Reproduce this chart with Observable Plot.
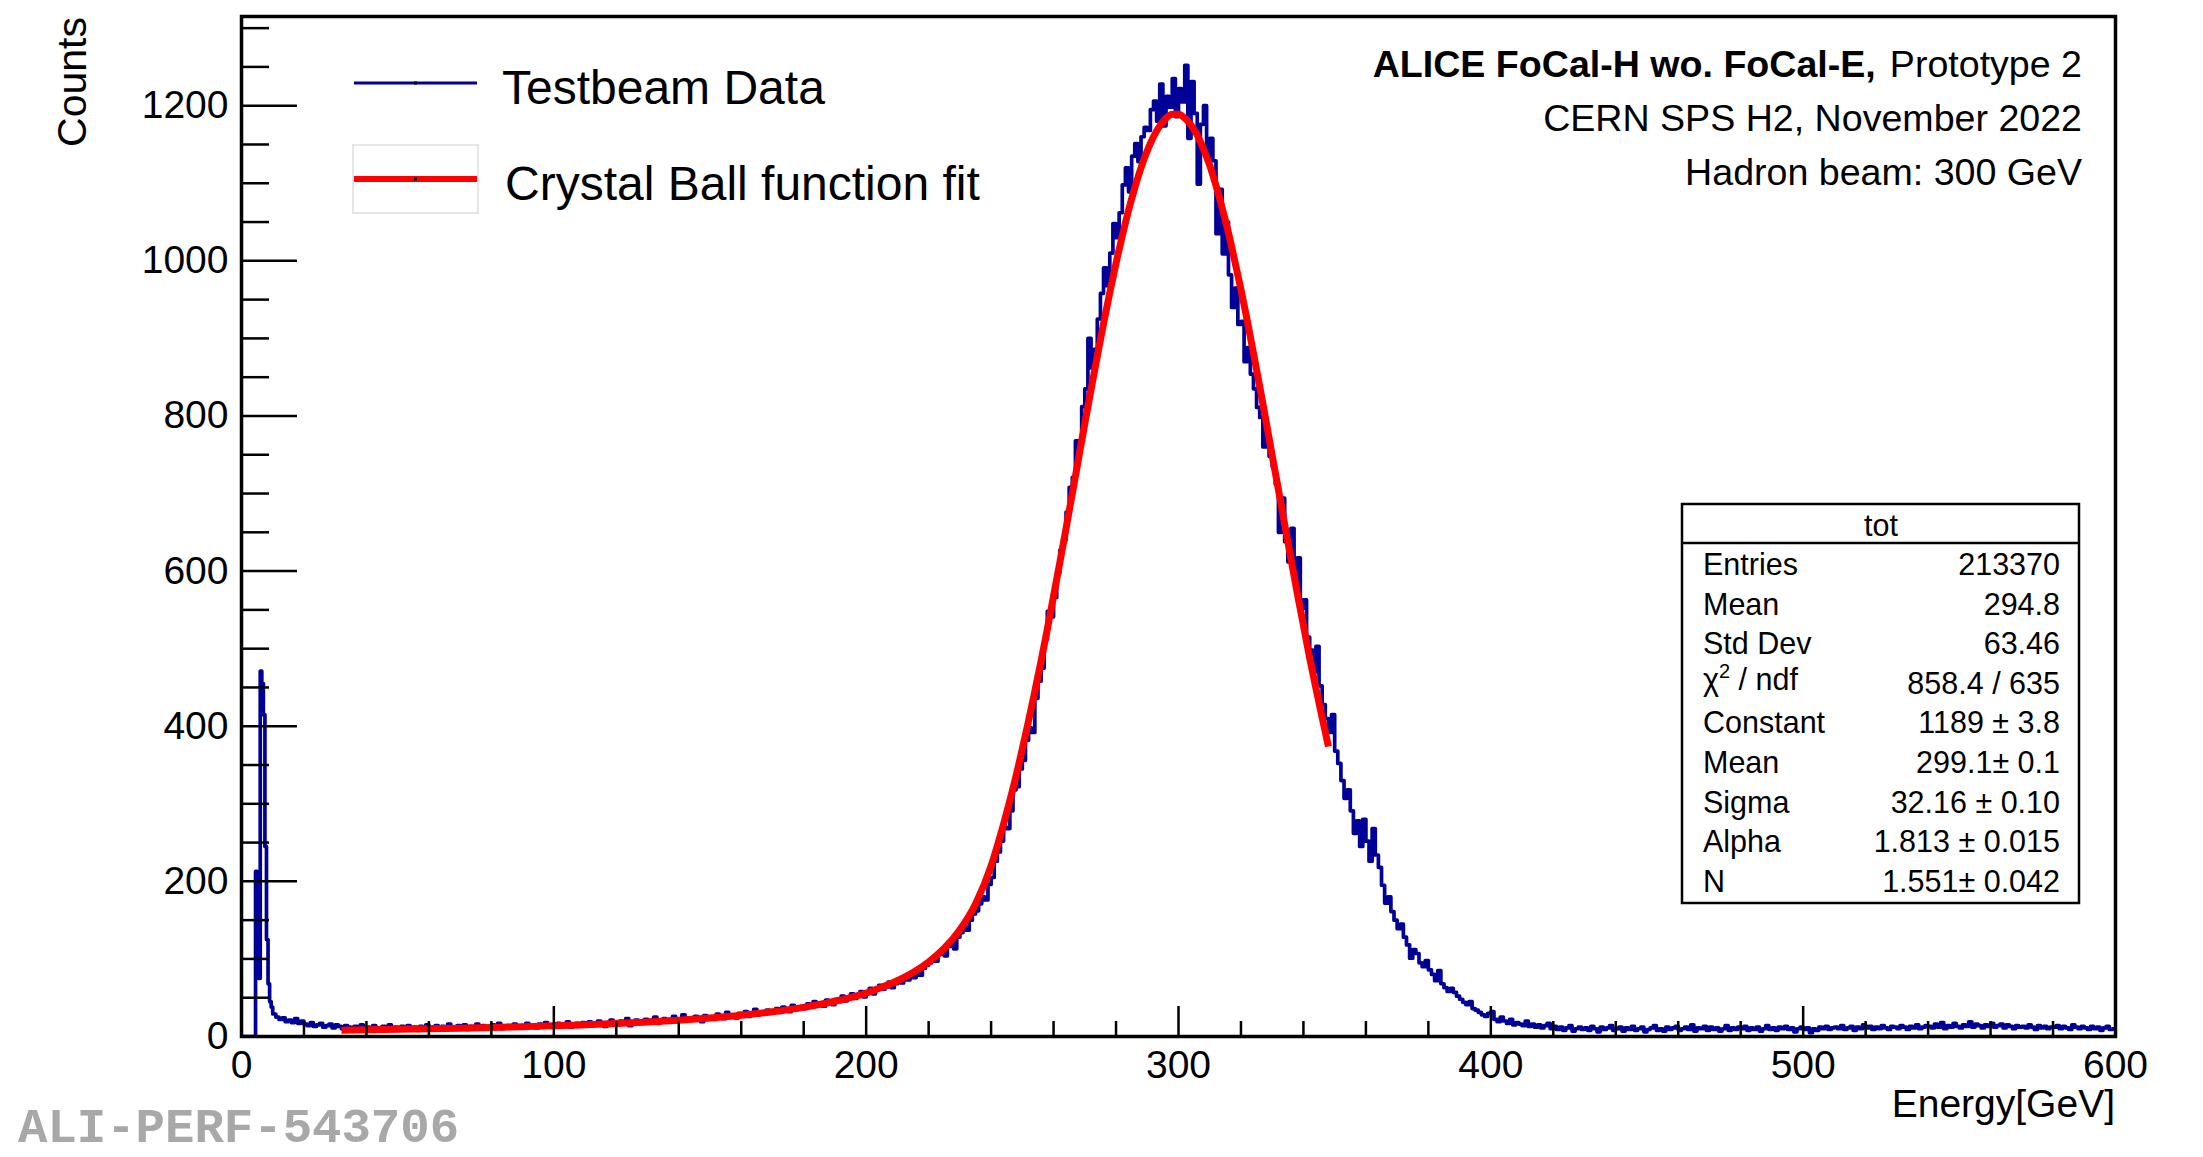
<!DOCTYPE html>
<html><head><meta charset="utf-8">
<script src="https://cdn.jsdelivr.net/npm/d3@7"></script>
<script src="https://cdn.jsdelivr.net/npm/@observablehq/plot@0.6"></script>
<style>html,body{margin:0;padding:0;background:#fff;overflow:hidden}</style>
</head><body><div id="chart"></div>
<script>
// ---------------- data ----------------
// low-energy spike, 0.5 GeV bins starting at 0 GeV
const spikeStart = 0;
const spikeWidth = 0.5;
const spikeCounts = [0,0,0,0,0,0,0,0,0, 213,180,75,471,455,415,245,125,68,45,38];
// main histogram, 1 GeV bins starting at 10 GeV
const mainStart = 10;
const mainWidth = 1;
const mainCounts = [
 29,25,22,24,19,21,18,23,17,20,
 16,14,18,13,15,17,12,14,16,11,
 15,13,10,14,12,9,13,11,15,10,
 12,9,14,11,8,13,10,15,11,12,
 9,13,11,14,10,12,8,13,11,15,
 10,12,14,9,13,11,16,10,12,14,
 11,15,9,13,12,16,10,14,12,11,
 15,12,17,10,13,14,11,16,13,12,
 14,17,12,15,11,16,13,18,12,15,
 14,17,13,16,19,12,15,17,14,18,
 15,19,14,17,20,16,13,18,21,15,
 17,20,16,23,14,18,21,17,19,22,
 18,21,25,17,20,23,19,22,26,20,
 22,28,20,24,21,26,23,19,27,24,
 25,22,29,26,23,31,25,28,24,30,
 27,32,26,30,35,28,31,29,34,30,
 33,36,31,38,34,32,40,35,37,39,
 36,42,38,45,40,43,39,47,44,41,
 48,45,52,46,50,55,49,53,58,51,
 57,62,55,60,66,61,64,70,63,68,
 74,69,77,73,80,76,84,79,88,92,
 95,101,97,106,110,104,116,121,113,128,
 134,141,137,150,158,162,171,180,176,196,
 205,226,238,252,270,268,291,318,322,345,
 356,382,398,392,436,458,475,512,548,541,
 566,598,627,640,676,708,721,768,759,812,
 835,900,862,886,925,958,991,968,1010,1048,
 1030,1062,1098,1120,1089,1135,1151,1128,1160,1172,
 1168,1195,1206,1180,1228,1174,1212,1198,1235,1186,
 1222,1205,1252,1158,1231,1190,1099,1176,1200,1132,
 1158,1129,1035,1092,1009,1050,982,940,965,918,
 922,870,888,854,835,811,798,760,781,748,
 735,712,650,694,638,612,655,588,617,552,
 563,515,498,470,503,452,428,410,392,415,
 368,352,330,307,318,291,262,278,245,280,
 252,226,268,234,218,195,172,180,161,150,
 139,145,128,118,101,112,107,95,90,98,
 86,80,72,85,68,63,58,62,57,52,
 48,44,41,45,36,34,31,28,26,30,
 32,22,19,25,20,17,22,15,18,16,
 14,20,13,16,12,15,11,14,17,10,
 13,9,12,8,11,14,7,10,12,9,
 11,8,13,10,6,12,9,11,14,8,
 10,12,7,11,9,13,8,10,12,6,
 9,11,14,8,10,7,12,9,11,13,
 8,10,12,9,15,7,11,10,13,8,
 12,9,11,7,10,14,8,11,9,12,
 10,13,8,11,9,12,7,10,14,9,
 11,8,12,10,13,9,11,6,10,12,
 9,11,5,10,8,12,10,13,9,11,
 12,10,14,9,11,13,8,12,10,15,
 11,13,9,12,10,14,11,9,13,12,
 10,14,12,9,13,11,15,10,12,14,
 13,11,16,12,18,10,14,12,17,13,
 11,15,13,19,12,16,14,11,15,13,
 17,12,14,16,11,15,13,10,14,12,
 13,11,15,12,9,14,11,13,10,12,
 12,14,10,13,11,9,15,12,10,13,
 11,9,13,10,12,8,11,13,9,10
];
const histEnd = 600;
// Crystal Ball fit curve (read at sample energies)
const fitX = [32,40,50,60,70,80,90,100,110,120,130,140,150,160,170,180,190,200,205,210,215,220,225,230,235,240,
 242,244,246,248,250,252,254,256,258,260,262,264,266,268,270,272,274,276,278,280,282,284,286,288,290,
 292,294,296,298,300,302,304,306,308,310,312,314,316,318,320,322,324,326,328,330,332,334,336,338,340,
 342,344,346,348];
const fitY = [8.2,8.6,9.3,9.9,10.7,11.6,12.7,13.8,15.2,16.8,18.8,21.1,23.9,27.4,31.9,37.6,45.4,56,63.4,71.9,82.4,96,113.7,137.6,170.8,220,
 246,274,304,336,371,407,445,484,525,568,611,655,700,745,790,834,877,919,959,997,1032,1065,1094,1120,1142,
 1160,1174,1184,1189,1189,1184,1175,1162,1144,1123,1097,1068,1036,1000,963,923,881,838,794,749,705,660,616,572,530,
 488,449,411,374];

const xLabels = [0,100,200,300,400,500,600];
const xMinor = [20,40,60,80,120,140,160,180,220,240,260,280,320,340,360,380,420,440,460,480,520,540,560,580];
const yLabels = [0,200,400,600,800,1000,1200];
const yMinor = [50,100,150,250,300,350,450,500,550,650,700,750,850,900,950,1050,1100,1150,1250,1300];
const xDomain = [0,600];
const yDomain = [0,1315];

const xTitle = "Energy[GeV]";
const yTitle = "Counts";
const legendLabels = ["Testbeam Data","Crystal Ball function fit"];
const headerBold = "ALICE FoCal-H wo. FoCal-E,";
const headerRest = ["Prototype 2","CERN SPS H2, November 2022","Hadron beam: 300 GeV"];
const statsTitle = "tot";
const statsNames = ["Entries","Mean","Std Dev","CHI","Constant","Mean","Sigma","Alpha","N"];
const statsValues = ["213370","294.8","63.46","858.4 / 635","1189 \u00b1 3.8","299.1\u00b1 0.1","32.16 \u00b1 0.10","1.813 \u00b1 0.015","1.551\u00b1 0.042"];
const watermark = "ALI-PERF-543706";

// ---------------- build ----------------
const hist = [];
spikeCounts.forEach((c,i)=>hist.push({x: spikeStart + i*spikeWidth, y: c}));
mainCounts.forEach((c,i)=>hist.push({x: mainStart + i*mainWidth, y: c}));
hist.push({x: histEnd, y: mainCounts[mainCounts.length-1]});
const fit = fitX.map((x,i)=>({x, y: fitY[i]}));

const W = 2203, H = 1157;
const mL = 241, mR = 88, mT = 16, mB = 121;
const fw = W - mL - mR, fh = H - mT - mB;
const FONT = "'Liberation Sans', Arial, Helvetica, sans-serif";
const BLUE = "#000099";

const plot = Plot.plot({
  width: W, height: H,
  marginLeft: mL, marginRight: mR, marginTop: mT, marginBottom: mB,
  style: {fontFamily: FONT, fontSize: "39px", background: "white", color: "black"},
  x: {domain: xDomain},
  y: {domain: yDomain},
  marks: [
    Plot.line(hist, {x: "x", y: "y", curve: "step-after", stroke: BLUE, strokeWidth: 3.7, clip: true}),
    Plot.line(fit, {x: "x", y: "y", curve: "monotone-x", stroke: "#ff0000", strokeWidth: 7, strokeLinecap: "butt"}),
    Plot.tickX(xLabels, {x: d=>d, insetTop: fh - 30, stroke: "black", strokeWidth: 2.5}),
    Plot.tickX(xMinor, {x: d=>d, insetTop: fh - 15, stroke: "black", strokeWidth: 2.5}),
    Plot.tickY(yLabels, {y: d=>d, insetRight: fw - 56, stroke: "black", strokeWidth: 2.5}),
    Plot.tickY(yMinor, {y: d=>d, insetRight: fw - 28, stroke: "black", strokeWidth: 2.5}),
    Plot.axisX({ticks: xLabels, tickSize: 0, tickPadding: 14, fontSize: 39, label: null, tickFormat: d => String(d)}),
    Plot.axisY({ticks: yLabels, tickSize: 0, tickPadding: 13, fontSize: 39, label: null, tickFormat: d => String(d)}),
    Plot.frame({stroke: "black", strokeWidth: 3.5})
  ]
});
document.getElementById("chart").appendChild(plot);

const g = d3.select(plot).append("g").attr("font-family", FONT).attr("fill", "black").attr("text-anchor", "start");
// axis titles
g.append("text").attr("x", mL + fw).attr("y", 1117).attr("text-anchor", "end").attr("font-size", 39).text(xTitle);
g.append("text").attr("transform", "translate(86,17) rotate(-90)").attr("text-anchor", "end").attr("font-size", 41).text(yTitle);

// legend
g.append("rect").attr("x", 353).attr("y", 145).attr("width", 125).attr("height", 68)
  .attr("fill", "none").attr("stroke", "#e6e6e6").attr("stroke-width", 2);
g.append("line").attr("x1", 354).attr("x2", 477).attr("y1", 83).attr("y2", 83).attr("stroke", BLUE).attr("stroke-width", 3);
g.append("line").attr("x1", 354).attr("x2", 477).attr("y1", 179).attr("y2", 179).attr("stroke", "#ff0000").attr("stroke-width", 6);
g.append("rect").attr("x", 414).attr("y", 81.5).attr("width", 3).attr("height", 3).attr("fill", "black");
g.append("rect").attr("x", 414).attr("y", 177.5).attr("width", 3).attr("height", 3).attr("fill", "black");
g.append("text").attr("x", 502).attr("y", 104).attr("font-size", 48).text(legendLabels[0]);
g.append("text").attr("x", 505).attr("y", 200).attr("font-size", 48).text(legendLabels[1]);

// header
const h1 = g.append("text").attr("x", 2082).attr("y", 77).attr("text-anchor", "end").attr("font-size", 37.6);
h1.append("tspan").attr("font-weight", "bold").text(headerBold);
h1.append("tspan").attr("dx", 14).text(headerRest[0]);
g.append("text").attr("x", 2082).attr("y", 131).attr("text-anchor", "end").attr("font-size", 37.6).text(headerRest[1]);
g.append("text").attr("x", 2082).attr("y", 185).attr("text-anchor", "end").attr("font-size", 37.6).text(headerRest[2]);

// stats box
g.append("rect").attr("x", 1682).attr("y", 504).attr("width", 397).attr("height", 399)
  .attr("fill", "white").attr("stroke", "black").attr("stroke-width", 2.5);
g.append("line").attr("x1", 1682).attr("x2", 2079).attr("y1", 543).attr("y2", 543).attr("stroke", "black").attr("stroke-width", 2.5);
g.append("text").attr("x", 1881).attr("y", 536).attr("text-anchor", "middle").attr("font-size", 30.5).text(statsTitle);
statsNames.forEach((n, i) => {
  const y = 575 + i * 39.6;
  const t = g.append("text").attr("x", 1703).attr("y", y).attr("font-size", 30.5);
  if (n === "CHI") {
    t.attr("y", y - 4);
    t.append("tspan").text("\u03c7");
    t.append("tspan").attr("font-size", 20).attr("dy", -12).text("2");
    t.append("tspan").attr("dy", 12).text(" / ndf");
  } else {
    t.text(n);
  }
  g.append("text").attr("x", 2060).attr("y", y).attr("text-anchor", "end").attr("font-size", 30.5).text(statsValues[i]);
});

// watermark
g.append("text").attr("x", 18).attr("y", 1142).attr("font-family", "'Liberation Mono', 'Courier New', monospace")
  .attr("font-weight", "bold").attr("font-size", 49).attr("fill", "#a8a8a8").text(watermark);
</script>
</body></html>
